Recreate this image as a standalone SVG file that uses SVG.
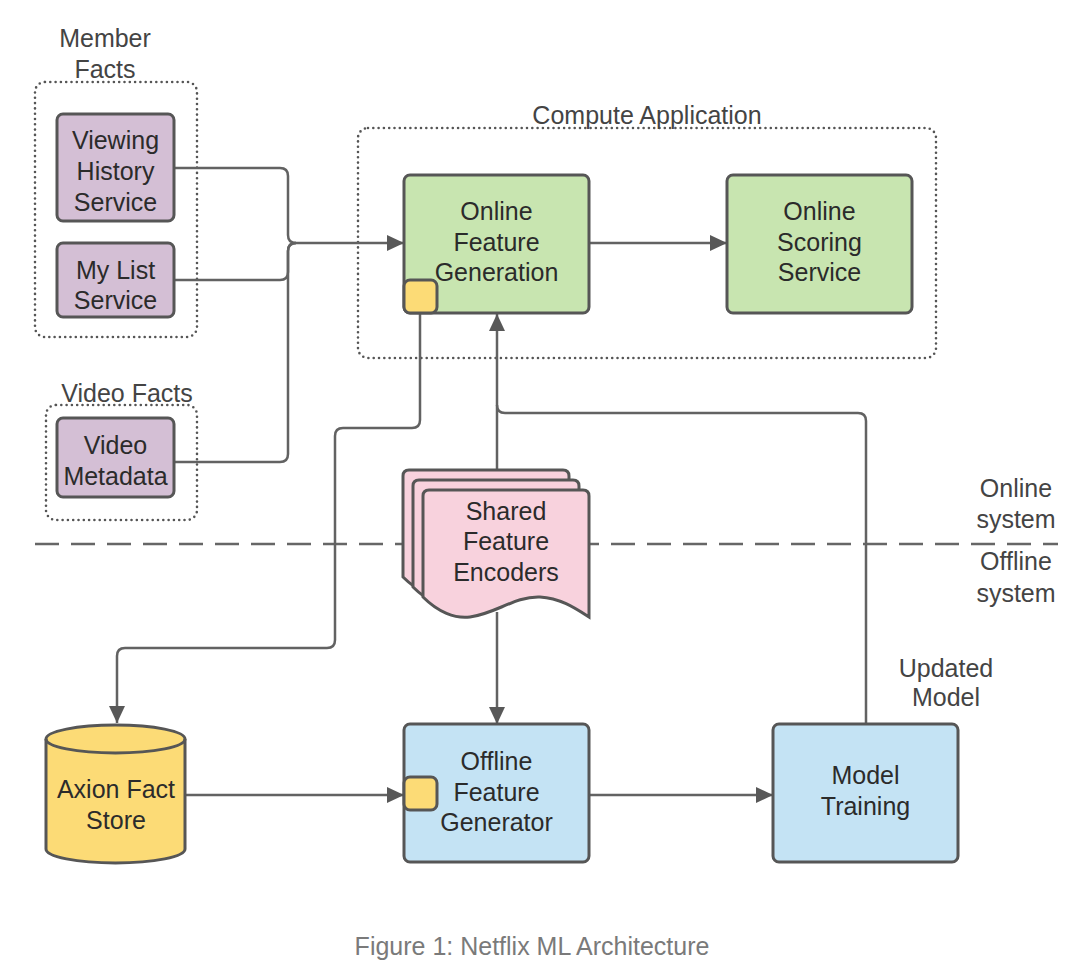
<svg xmlns="http://www.w3.org/2000/svg" width="1074" height="976" viewBox="0 0 1074 976">
<defs>
<style>
.t{font-family:"Liberation Sans",Arial,sans-serif;font-size:25px;fill:#2b2b2b;text-anchor:middle}
.lbl{font-family:"Liberation Sans",Arial,sans-serif;font-size:25px;fill:#444;text-anchor:middle}
.cap{font-family:"Liberation Sans",Arial,sans-serif;font-size:25px;fill:#7a7a7a;text-anchor:middle}
.box{stroke:#565656;stroke-width:3}
.purple{fill:#d4bfd5}
.green{fill:#c8e5b0}
.blue{fill:#c4e3f4}
.yellow{fill:#fcdb76}
.pink{fill:#f8d2dd}
.dot{fill:none;stroke:#555;stroke-width:2.6;stroke-dasharray:0 5.3;stroke-linecap:round}
.con{fill:none;stroke:#626262;stroke-width:2.5}
</style>
<marker id="ar" markerUnits="userSpaceOnUse" markerWidth="18" markerHeight="16" refX="17" refY="8" orient="auto">
<path d="M0,0 L17,8 L0,16 Z" fill="#585858"/>
</marker>
</defs>
<rect width="1074" height="976" fill="#ffffff"/>

<g id="groups">
<rect class="dot" x="35" y="82" width="162" height="255" rx="10"/>
<text class="lbl" x="105" y="47">Member</text>
<text class="lbl" x="105" y="78">Facts</text>
<rect class="dot" x="46" y="405" width="151" height="115" rx="10"/>
<text class="lbl" x="127" y="402">Video Facts</text>
<rect class="dot" x="358" y="128" width="578" height="230" rx="10"/>
<text class="lbl" x="647" y="124">Compute Application</text>
<line x1="35" y1="544" x2="1058" y2="544" stroke="#666" stroke-width="2.5" stroke-dasharray="24 12"/>
<text class="lbl" x="1016" y="497">Online</text>
<text class="lbl" x="1016" y="528">system</text>
<text class="lbl" x="1016" y="570">Offline</text>
<text class="lbl" x="1016" y="602">system</text>
</g>

<g id="connectors">
<path class="con" d="M174,168 H280 Q288,168 288,176 V235 Q288,243 296,243"/>
<path class="con" d="M174,280 H280 Q288,280 288,272 V251 Q288,243 296,243"/>
<path class="con" d="M174,462 H280 Q288,462 288,454 V251 Q288,243 296,243"/>
<path class="con" d="M296,243 H404" marker-end="url(#ar)"/>
<path class="con" d="M589,243 H727" marker-end="url(#ar)"/>
<path class="con" d="M420,313 V420 Q420,428 412,428 H343 Q335,428 335,436 V640 Q335,648 327,648 H125 Q117,648 117,656 V723" marker-end="url(#ar)"/>
<path class="con" d="M497,470 V314" marker-end="url(#ar)"/>
<path class="con" d="M866,724 V421 Q866,413 858,413 H505 Q497,413 497,405"/>
<path class="con" d="M497,612 V724" marker-end="url(#ar)"/>
<path class="con" d="M185,795 H404" marker-end="url(#ar)"/>
<path class="con" d="M589,795 H773" marker-end="url(#ar)"/>
<text class="lbl" x="946" y="677">Updated</text>
<text class="lbl" x="946" y="706">Model</text>
</g>

<g id="viewing-history">
<rect class="box purple" x="57" y="114" width="117" height="107" rx="6"/>
<text class="t" x="115.5" y="149">Viewing</text>
<text class="t" x="115.5" y="180">History</text>
<text class="t" x="115.5" y="211">Service</text>
</g>
<g id="my-list">
<rect class="box purple" x="57" y="243" width="117" height="74" rx="6"/>
<text class="t" x="115.5" y="279">My List</text>
<text class="t" x="115.5" y="309">Service</text>
</g>
<g id="video-metadata">
<rect class="box purple" x="57" y="418" width="117" height="79" rx="6"/>
<text class="t" x="115.5" y="454">Video</text>
<text class="t" x="115.5" y="485">Metadata</text>
</g>

<g id="online-feature-generation">
<rect class="box green" x="404" y="175" width="185" height="138" rx="6"/>
<rect class="box yellow" x="404" y="280" width="33" height="33" rx="6"/>
<text class="t" x="496.5" y="220">Online</text>
<text class="t" x="496.5" y="251">Feature</text>
<text class="t" x="496.5" y="281">Generation</text>
</g>
<g id="online-scoring-service">
<rect class="box green" x="727" y="175" width="185" height="138" rx="6"/>
<text class="t" x="819.5" y="220">Online</text>
<text class="t" x="819.5" y="251">Scoring</text>
<text class="t" x="819.5" y="281">Service</text>
</g>

<g id="shared-feature-encoders">
<path class="box pink" transform="translate(-20,-20)" d="M423,496 Q423,490 429,490 H583 Q589,490 589,496 V617 C575,608 560,598 540,597 C515,596 495,614 470,617 C455,619 438,612 423,597 Z"/>
<path class="box pink" transform="translate(-10,-10)" d="M423,496 Q423,490 429,490 H583 Q589,490 589,496 V617 C575,608 560,598 540,597 C515,596 495,614 470,617 C455,619 438,612 423,597 Z"/>
<path class="box pink" d="M423,496 Q423,490 429,490 H583 Q589,490 589,496 V617 C575,608 560,598 540,597 C515,596 495,614 470,617 C455,619 438,612 423,597 Z"/>
<text class="t" x="506" y="520">Shared</text>
<text class="t" x="506" y="550">Feature</text>
<text class="t" x="506" y="581">Encoders</text>
</g>

<g id="axion-fact-store">
<path class="box yellow" d="M46,739 A69.5,14 0 0 1 185,739 V849 A69.5,14 0 0 1 46,849 Z"/>
<path class="box" fill="none" d="M46,739 A69.5,14 0 0 0 185,739"/>
<text class="t" x="116" y="798">Axion Fact</text>
<text class="t" x="116" y="829">Store</text>
</g>

<g id="offline-feature-generator">
<rect class="box blue" x="404" y="724" width="185" height="138" rx="6"/>
<rect class="box yellow" x="404" y="777" width="33" height="33" rx="6"/>
<text class="t" x="496.5" y="770">Offline</text>
<text class="t" x="496.5" y="801">Feature</text>
<text class="t" x="496.5" y="831">Generator</text>
</g>

<g id="model-training">
<rect class="box blue" x="773" y="724" width="185" height="138" rx="6"/>
<text class="t" x="865.5" y="784">Model</text>
<text class="t" x="865.5" y="815">Training</text>
</g>

<text class="cap" x="532" y="955">Figure 1: Netflix ML Architecture</text>
</svg>
